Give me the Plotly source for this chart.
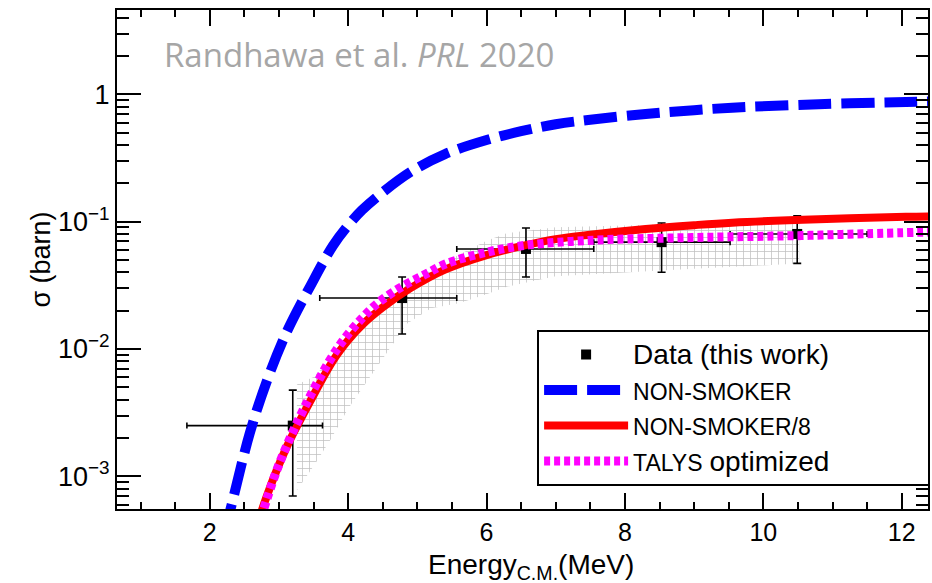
import plotly.graph_objects as go

# ---------------- data ----------------
# Measured points
data_x = [3.20, 4.78, 6.57, 8.53, 10.49]
data_y = [2.5e-3, 0.0251, 0.061, 0.069, 0.080]
data_x_lo = [1.67, 3.59, 5.57, 7.55, 9.52]
data_x_hi = [3.63, 5.57, 7.55, 9.52, 11.50]
data_y_lo = [7.0e-4, 0.0131, 0.0367, 0.040, 0.047]
data_y_hi = [4.75e-3, 0.0367, 0.089, 0.0975, 0.111]

# NON-SMOKER
ns_x = [2.2, 2.3, 2.58, 2.83, 3.11, 3.45, 3.78, 4.0, 4.2, 4.5, 4.9, 5.4, 6.0, 6.5, 7.0, 7.5,
        8.3, 9.0, 9.55, 10.8, 12.06, 12.5]
ns_y = [3.39e-4, 5.50e-4, 2.19e-3, 5.69e-3, 0.0135, 0.0309, 0.0646, 0.0933, 0.123, 0.170, 0.245,
        0.339, 0.437, 0.513, 0.582, 0.631, 0.700, 0.750, 0.785, 0.836, 0.871, 0.881]

# NON-SMOKER/8
ns8_x = [2.58, 2.83, 3.11, 3.45, 3.78, 4.0, 4.2, 4.5, 4.9, 5.4, 6.0, 6.5, 7.0, 7.5,
         8.3, 9.0, 9.55, 10.8, 12.06, 12.5]
ns8_y = [2.74e-4, 7.11e-4, 1.69e-3, 3.86e-3, 8.07e-3, 0.0117, 0.0154, 0.0212, 0.0300, 0.0420,
         0.0546, 0.0641, 0.0728, 0.0789, 0.0875, 0.0938, 0.0981, 0.1045, 0.109, 0.110]

# TALYS optimized
talys_x = [2.70, 2.97, 3.35, 3.84, 4.2, 4.45, 4.78, 5.13, 5.42, 6.0, 6.58, 7.56, 8.54, 9.5,
           10.5, 11.5, 12.5]
talys_y = [3.98e-4, 1.12e-3, 3.31e-3, 0.0100, 0.0174, 0.0234, 0.0309, 0.0389, 0.0468, 0.0575,
           0.0653, 0.0716, 0.0741, 0.0759, 0.0776, 0.0804, 0.0832]

# Uncertainty band
band_x = [3.26, 3.5, 3.75, 4.0, 4.25, 4.5, 4.85, 5.2, 5.6, 6.0, 6.3, 7.0, 8.0, 9.0, 10.52]
band_lo = [7.76e-4, 1.20e-3, 1.95e-3, 3.39e-3, 5.25e-3, 8.32e-3, 0.0158, 0.0209, 0.0229, 0.0269,
           0.0309, 0.0372, 0.0398, 0.0427, 0.0468]
band_hi = [5.25e-3, 6.03e-3, 8.32e-3, 0.0117, 0.0166, 0.0240, 0.0316, 0.0417, 0.0550, 0.0708,
           0.0813, 0.0902, 0.0933, 0.0966, 0.0989]

x_major = [2, 4, 6, 8, 10, 12]
y_major = [1e-3, 1e-2, 1e-1, 1]
y_major_text = ["10<sup>\u22123</sup>", "10<sup>\u22122</sup>", "10<sup>\u22121</sup>", "1"]
y_minor = [m * 10.0 ** e for e in (-4, -3, -2, -1, 0) for m in range(2, 10)]

FONT = "Liberation Sans, Arial, sans-serif"
SMALL = "<span style='font-size:23px'>{}</span>"
BIG = "<span style='font-size:28px'>{}</span>"
PAD = "\u00a0" * 12

fig = go.Figure()

# hatched band
fig.add_trace(go.Scatter(
    x=band_x + band_x[::-1], y=band_hi + band_lo[::-1],
    mode="lines", fill="toself", line=dict(width=0, color="rgba(0,0,0,0)"),
    fillcolor="rgba(255,255,255,0)",
    fillpattern=dict(shape="+", fgcolor="#808080", bgcolor="rgba(255,255,255,0)", size=7, solidity=0.2),
    showlegend=False, hoverinfo="skip"))

# data
fig.add_trace(go.Scatter(
    x=data_x, y=data_y, mode="markers", name=BIG.format("Data (this work)" + PAD),
    marker=dict(symbol="square", size=10, color="black"),
    error_x=dict(type="data", symmetric=False,
                 array=[h - c for h, c in zip(data_x_hi, data_x)],
                 arrayminus=[c - l for l, c in zip(data_x_lo, data_x)],
                 color="black", thickness=1.6, width=3),
    error_y=dict(type="data", symmetric=False,
                 array=[h - c for h, c in zip(data_y_hi, data_y)],
                 arrayminus=[c - l for l, c in zip(data_y_lo, data_y)],
                 color="black", thickness=1.6, width=4)))

fig.add_trace(go.Scatter(
    x=ns_x, y=ns_y, mode="lines", name=SMALL.format("NON-SMOKER"),
    line=dict(color="#0000ff", width=10, dash="33px,10px", shape="spline")))

fig.add_trace(go.Scatter(
    x=ns8_x, y=ns8_y, mode="lines", name=SMALL.format("NON-SMOKER/8"),
    line=dict(color="#ff0000", width=8, shape="spline")))

fig.add_trace(go.Scatter(
    x=talys_x, y=talys_y, mode="lines",
    name=SMALL.format("TALYS") + " " + BIG.format("optimized"),
    line=dict(color="#ff00ff", width=9, dash="6px,4px", shape="spline")))

fig.update_layout(
    width=932, height=583,
    margin=dict(l=117, r=2, t=10, b=74),
    paper_bgcolor="white", plot_bgcolor="white",
    font=dict(family=FONT, color="black", size=25),
    legend=dict(x=0.518, y=0.359, xanchor="left", yanchor="top",
                bordercolor="black", borderwidth=2, bgcolor="white",
                font=dict(family=FONT, size=25, color="black"),
                itemwidth=84, tracegroupgap=0),
    annotations=[
        dict(text="Randhawa et al. <i>PRL</i> 2020", xref="paper", yref="paper",
             x=0.056, y=0.91, xanchor="left", yanchor="middle", showarrow=False,
             font=dict(family="Open Sans, sans-serif", size=33, color="#a6a6a6")),
        dict(text="Energy<sub>C.M.</sub>(MeV)", xref="paper", yref="paper",
             x=0.51, y=-0.077, xanchor="center", yanchor="top", showarrow=False,
             font=dict(family=FONT, size=28, color="black")),
    ],
)

fig.update_xaxes(
    range=[0.66, 12.38], showgrid=False, zeroline=False,
    showline=True, linecolor="black", linewidth=2, mirror="allticks",
    ticks="inside", ticklen=16, tickwidth=1.5, tickcolor="black",
    tickvals=x_major, ticktext=[str(v) for v in x_major],
    tickfont=dict(family=FONT, size=25),
    minor=dict(dtick=0.5, tick0=0, ticks="inside", ticklen=7, tickwidth=1.5, tickcolor="black"),
)
fig.update_yaxes(
    type="log", range=[-3.257, 0.662], showgrid=False, zeroline=False,
    showline=True, linecolor="black", linewidth=2, mirror="allticks",
    ticks="inside", ticklen=24, tickwidth=1.5, tickcolor="black",
    tickvals=y_major, ticktext=y_major_text,
    tickfont=dict(family=FONT, size=27),
    minor=dict(tickvals=y_minor, ticks="inside", ticklen=12, tickwidth=1.5, tickcolor="black"),
    title=dict(text="\u03c3 (barn)", font=dict(family=FONT, size=27), standoff=0),
)

fig.write_html("out.html")
